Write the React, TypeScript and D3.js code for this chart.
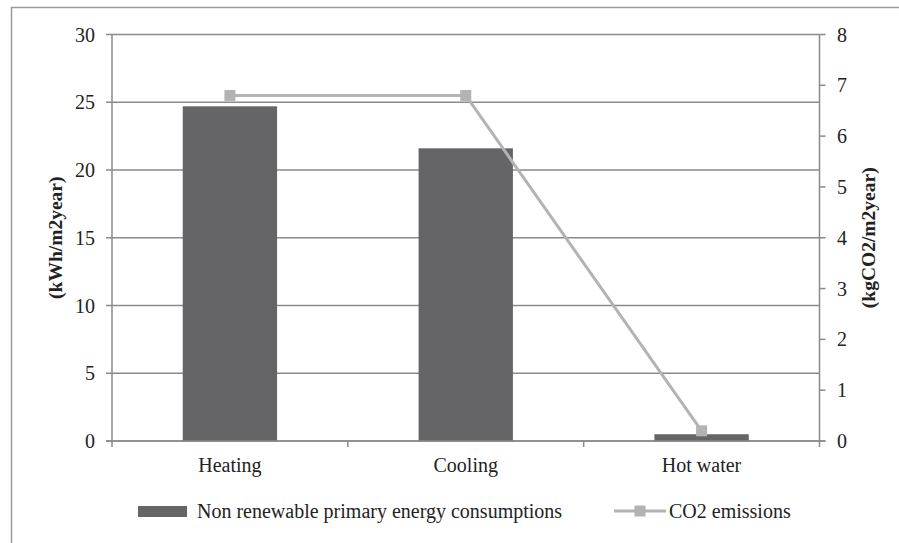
import React from "react";
import * as d3 from "d3";

// Data
const categories: string[] = ["Heating", "Cooling", "Hot water"];
const energyValues: number[] = [24.7, 21.6, 0.5]; // kWh/m2year
const co2Values: number[] = [6.8, 6.8, 0.2]; // kgCO2/m2year
const leftTicks: number[] = [0, 5, 10, 15, 20, 25, 30];
const rightTicks: number[] = [0, 1, 2, 3, 4, 5, 6, 7, 8];
const energyLabel = "Non renewable primary energy consumptions";
const co2Label = "CO2 emissions";
const leftTitle = "(kWh/m2year)";
const rightTitle = "(kgCO2/m2year)";

const W = 899;
const H = 543;
const plot = { left: 112, right: 819.5, top: 34.5, bottom: 441 };
const FONT = "'Liberation Serif', 'Times New Roman', serif";
const GRID = "#8a8a8a";
const BAR = "#656567";
const LINE = "#b3b3b3";
const TEXT = "#222";

export default function App() {
  const x = d3
    .scaleBand<string>()
    .domain(categories)
    .range([plot.left, plot.right])
    .paddingInner(0.6)
    .paddingOuter(0.3);
  const band = d3.scaleBand<string>().domain(categories).range([plot.left, plot.right]);
  const yL = d3.scaleLinear().domain([0, 30]).range([plot.bottom, plot.top]);
  const yR = d3.scaleLinear().domain([0, 8]).range([plot.bottom, plot.top]);

  const cx = (c: string) => (band(c) as number) + band.bandwidth() / 2;
  const linePath = d3
    .line<number>()
    .x((_, i) => cx(categories[i]))
    .y((v) => yR(v))(co2Values) as string;

  const boundaries = [plot.left, ...categories.map((c) => (band(c) as number) + band.bandwidth())];

  return (
    <svg
      width={W}
      height={H}
      style={{ position: "fixed", left: 0, top: 0, background: "#fff" }}
      fontFamily={FONT}
    >
      <rect x={0} y={0} width={W} height={H} fill="#fff" />
      {/* outer chart frame */}
      <rect x={11.5} y={7.5} width={W + 20} height={H + 20} fill="none" stroke="#9a9a9a" strokeWidth={1.5} />

      {/* horizontal gridlines */}
      {leftTicks.map((t) => (
        <line key={"g" + t} x1={plot.left} x2={plot.right} y1={yL(t)} y2={yL(t)} stroke={GRID} strokeWidth={1.5} />
      ))}

      {/* bars */}
      {categories.map((c, i) => (
        <rect
          key={c}
          x={x(c)}
          width={x.bandwidth()}
          y={yL(energyValues[i])}
          height={plot.bottom - yL(energyValues[i])}
          fill={BAR}
        />
      ))}

      {/* left axis */}
      <line x1={plot.left} x2={plot.left} y1={plot.top} y2={plot.bottom} stroke={GRID} strokeWidth={1.5} />
      {leftTicks.map((t) => (
        <g key={"l" + t}>
          <line x1={plot.left - 6} x2={plot.left} y1={yL(t)} y2={yL(t)} stroke={GRID} strokeWidth={1.5} />
          <text x={95} y={yL(t)} dy="0.35em" textAnchor="end" fontSize={20} fill={TEXT}>
            {t}
          </text>
        </g>
      ))}

      {/* right axis */}
      <line x1={plot.right} x2={plot.right} y1={plot.top} y2={plot.bottom} stroke={GRID} strokeWidth={1.5} />
      {rightTicks.map((t) => (
        <g key={"r" + t}>
          <line x1={plot.right} x2={plot.right + 6} y1={yR(t)} y2={yR(t)} stroke={GRID} strokeWidth={1.5} />
          <text x={837} y={yR(t)} dy="0.35em" textAnchor="start" fontSize={20} fill={TEXT}>
            {t}
          </text>
        </g>
      ))}

      {/* x axis */}
      <line x1={plot.left - 6} x2={plot.right + 6} y1={plot.bottom} y2={plot.bottom} stroke={GRID} strokeWidth={1.5} />
      {boundaries.map((b, i) => (
        <line key={"xt" + i} x1={b} x2={b} y1={plot.bottom} y2={plot.bottom + 6} stroke={GRID} strokeWidth={1.5} />
      ))}
      {categories.map((c) => (
        <text key={"xl" + c} x={cx(c)} y={465} dy="0.35em" textAnchor="middle" fontSize={20} fill={TEXT}>
          {c}
        </text>
      ))}

      {/* CO2 line with square markers */}
      <path d={linePath} fill="none" stroke={LINE} strokeWidth={3} />
      {co2Values.map((v, i) => (
        <rect key={"m" + i} x={cx(categories[i]) - 5.5} y={yR(v) - 5.5} width={11} height={11} fill={LINE} />
      ))}

      {/* axis titles */}
      <text
        transform={`translate(55, ${(plot.top + plot.bottom) / 2}) rotate(-90)`}
        dy="0.35em"
        textAnchor="middle"
        fontSize={19.5}
        fontWeight="bold"
        fill={TEXT}
      >
        {leftTitle}
      </text>
      <text
        transform={`translate(868, ${(plot.top + plot.bottom) / 2}) rotate(-90)`}
        dy="0.35em"
        textAnchor="middle"
        fontSize={19.5}
        fontWeight="bold"
        fill={TEXT}
      >
        {rightTitle}
      </text>

      {/* legend */}
      <rect x={138} y={506} width={49} height={11} fill={BAR} />
      <text x={197} y={511} dy="0.35em" fontSize={20} fill={TEXT}>
        {energyLabel}
      </text>
      <line x1={614} x2={666} y1={511} y2={511} stroke={LINE} strokeWidth={3} />
      <rect x={634.5} y={505.5} width={11} height={11} fill={LINE} />
      <text x={669} y={511} dy="0.35em" fontSize={20} fill={TEXT}>
        {co2Label}
      </text>
    </svg>
  );
}
